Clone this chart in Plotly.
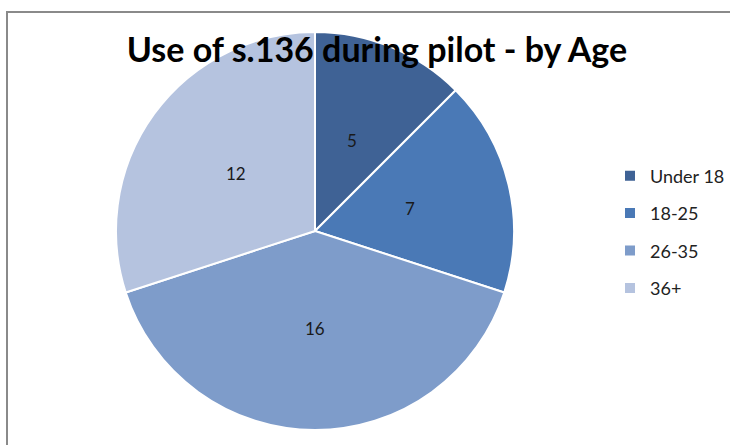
import math
import plotly.graph_objects as go

# Data
categories = ["Under 18", "18-25", "26-35", "36+"]
values = [5, 7, 16, 12]
colors = ["#3F6295", "#4A79B6", "#7E9CCA", "#B5C3DF"]
title_text = "Use of s.136 during pilot - by Age"

W, H = 730, 445
cx, cy, r = 315, 231, 199
FONT = "Lato, Open Sans, sans-serif"

fig = go.Figure()
fig.add_trace(go.Pie(
    labels=categories,
    values=values,
    sort=False,
    direction="clockwise",
    rotation=0,
    marker=dict(colors=colors, line=dict(color="white", width=2)),
    textinfo="none",
    showlegend=False,
    hoverinfo="label+value",
    domain=dict(x=[(cx - r) / W, (cx + r) / W], y=[(H - cy - r) / H, (H - cy + r) / H]),
))

# value labels placed at about half radius along each slice's mid-angle
total = sum(values)
annotations = []
cum = 0
for v in values:
    mid = (cum + v / 2) / total * 2 * math.pi
    cum += v
    px = cx + 0.49 * r * math.sin(mid)
    py = cy - 0.49 * r * math.cos(mid)
    annotations.append(dict(x=px / W, y=1 - py / H, xref="paper", yref="paper",
                            text=str(v), showarrow=False, xanchor="center", yanchor="middle",
                            font=dict(family=FONT, size=17, color="#1a1a1a")))

# legend entries (one per category, spaced like the reference)
for i, (lab, col) in enumerate(zip(categories, colors)):
    fig.add_trace(go.Scatter(
        x=[None], y=[None], mode="markers", name=lab,
        marker=dict(symbol="square", size=10, color=col),
        legendgroup=f"g{i}", showlegend=True, hoverinfo="skip",
    ))

fig.update_layout(
    width=W, height=H,
    margin=dict(l=0, r=0, t=0, b=0),
    paper_bgcolor="white", plot_bgcolor="white",
    xaxis=dict(visible=False), yaxis=dict(visible=False),
    title=dict(text=f"<b>{title_text}</b>", x=377 / W, xanchor="center",
               y=1 - 50 / H, yanchor="middle",
               font=dict(family=FONT, size=34, color="#000000")),
    legend=dict(x=(650 - 40) / W, xanchor="left", y=1 - 232 / H, yanchor="middle",
                bgcolor="rgba(0,0,0,0)", tracegroupgap=11,
                font=dict(family=FONT, size=18, color="#222222")),
    annotations=annotations,
    shapes=[dict(type="rect", xref="paper", yref="paper",
                 x0=7 / W, x1=1.05, y0=-0.05, y1=1 - 12 / H,
                 line=dict(color="#8a8a8a", width=2), layer="below")],
)

fig.write_html("out.html", config={"displayModeBar": False},
               post_script="document.body.style.margin='0';document.body.style.padding='0';")
